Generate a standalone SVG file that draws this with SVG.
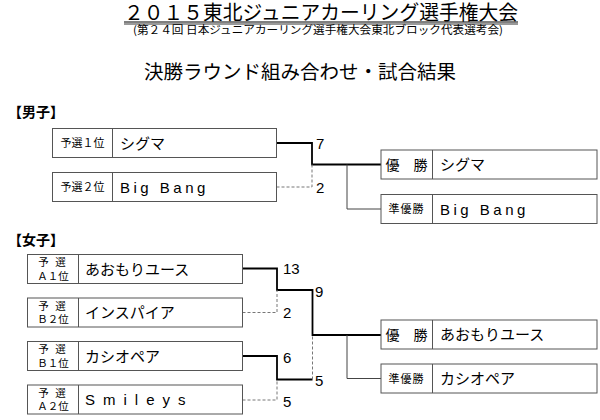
<svg xmlns="http://www.w3.org/2000/svg" width="600" height="420" viewBox="0 0 600 420">
<style>
text{font-family:"Noto Sans CJK JP","Liberation Sans",sans-serif;fill:#000}
.box{fill:#fff;stroke:#555;stroke-width:1}
.div{stroke:#555;stroke-width:1}
.lab{font-size:11px;text-anchor:middle}
.lab2{font-size:10.5px;text-anchor:middle}
.name{font-size:15px}
.lat{font-family:"Liberation Sans",Arial,sans-serif;font-size:15px}
.score{font-family:"Liberation Sans",Arial,sans-serif;font-size:15px}
.win{fill:none;stroke:#000;stroke-width:1.8}
.lose{fill:none;stroke:#777;stroke-width:1;stroke-dasharray:3,2}
.br{fill:none;stroke:#444;stroke-width:1}
.sec{font-size:14px;font-weight:bold}
</style>
<g id="title">
<text x="124" y="19.5" font-size="20.5" textLength="394" lengthAdjust="spacingAndGlyphs">２０１５東北ジュニアカーリング選手権大会</text>
<line x1="124" y1="22" x2="518" y2="22" stroke="#000" stroke-width="1.2"/>
<line x1="124" y1="24" x2="518" y2="24" stroke="#000" stroke-width="0.8"/>
<text x="133" y="34" font-size="11" textLength="370" lengthAdjust="spacingAndGlyphs">(第２４回 日本ジュニアカーリング選手権大会東北ブロック代表選考会)</text>
<text x="300" y="79" font-size="19.5" text-anchor="middle">決勝ラウンド組み合わせ・試合結果</text>
</g>
<text x="8" y="117" class="sec">【男子】</text>
<text x="8" y="245" class="sec">【女子】</text>
<g id="connectors">
<path class="win" d="M276.5 143 H312 V164.5 H381"/>
<path class="lose" d="M276.5 187 H312 V164.5"/>
<path class="br" d="M347 164.5 V209 H381"/>
<path class="win" d="M242.5 268.5 H277 V290 H312.5 V335 H381"/>
<path class="lose" d="M242.5 312.5 H277 V290"/>
<path class="win" d="M242.5 356 H277 V379.5 H312.5"/>
<path class="lose" d="M242.5 400 H277 V379.5"/>
<path class="lose" d="M312.5 379.5 V335"/>
<path class="br" d="M347 335 V378.5 H381"/>
</g>
<g id="m1"><rect class="box" x="52.5" y="128.5" width="224" height="29"/><line class="div" x1="112.5" y1="128.5" x2="112.5" y2="157.5"/><text class="lab" x="82.5" y="147">予選１位</text><text class="name" x="120" y="148.5">シグマ</text></g>
<g id="m2"><rect class="box" x="52.5" y="172.5" width="224" height="29"/><line class="div" x1="112.5" y1="172.5" x2="112.5" y2="201.5"/><text class="lab" x="82.5" y="191">予選２位</text><text class="lat" x="120" y="192.5" letter-spacing="3.5">Big Bang</text></g>
<g id="mwin"><rect class="box" x="381" y="150" width="216" height="29"/><line class="div" x1="432.5" y1="150" x2="432.5" y2="179"/><text x="406.5" y="169.5" font-size="14" text-anchor="middle">優　勝</text><text class="name" x="440" y="170">シグマ</text></g>
<g id="mrun"><rect class="box" x="381" y="194.5" width="216" height="29"/><line class="div" x1="432.5" y1="194.5" x2="432.5" y2="223.5"/><text x="406.5" y="213" font-size="11" text-anchor="middle" letter-spacing="1">準優勝</text><text class="lat" x="440" y="214.5" letter-spacing="3.5">Big Bang</text></g>
<g id="ms"><text class="score" x="316" y="149">7</text><text class="score" x="316" y="193">2</text></g>
<g id="w1"><rect class="box" x="27.5" y="254.5" width="215" height="29"/><line class="div" x1="78.5" y1="254.5" x2="78.5" y2="283.5"/><text class="lab2" x="53" y="266" letter-spacing="2">予 選</text><text class="lab2" x="53" y="279.5">Ａ１位</text><text class="name" x="85" y="274.5">あおもりユース</text></g>
<g id="w2"><rect class="box" x="27.5" y="298" width="215" height="29"/><line class="div" x1="78.5" y1="298" x2="78.5" y2="327"/><text class="lab2" x="53" y="309.5" letter-spacing="2">予 選</text><text class="lab2" x="53" y="323">Ｂ２位</text><text class="name" x="85" y="318">インスパイア</text></g>
<g id="w3"><rect class="box" x="27.5" y="341.5" width="215" height="29"/><line class="div" x1="78.5" y1="341.5" x2="78.5" y2="370.5"/><text class="lab2" x="53" y="353" letter-spacing="2">予 選</text><text class="lab2" x="53" y="366.5">Ｂ１位</text><text class="name" x="85" y="361.5">カシオペア</text></g>
<g id="w4"><rect class="box" x="27.5" y="385" width="215" height="29"/><line class="div" x1="78.5" y1="385" x2="78.5" y2="414"/><text class="lab2" x="53" y="396.5" letter-spacing="2">予 選</text><text class="lab2" x="53" y="410">Ａ２位</text><text class="lat" x="85" y="405" letter-spacing="8">Smileys</text></g>
<g id="wwin"><rect class="box" x="381" y="320" width="216" height="29"/><line class="div" x1="432.5" y1="320" x2="432.5" y2="349"/><text x="406.5" y="339.5" font-size="14" text-anchor="middle">優　勝</text><text class="name" x="440" y="340">あおもりユース</text></g>
<g id="wrun"><rect class="box" x="381" y="364" width="216" height="29"/><line class="div" x1="432.5" y1="364" x2="432.5" y2="393"/><text x="406.5" y="382.5" font-size="11" text-anchor="middle" letter-spacing="1">準優勝</text><text class="name" x="440" y="384">カシオペア</text></g>
<g id="ws"><text class="score" x="283" y="274">13</text><text class="score" x="283" y="318">2</text><text class="score" x="315" y="297">9</text><text class="score" x="283" y="363">6</text><text class="score" x="315" y="386">5</text><text class="score" x="283" y="407">5</text></g>
</svg>
